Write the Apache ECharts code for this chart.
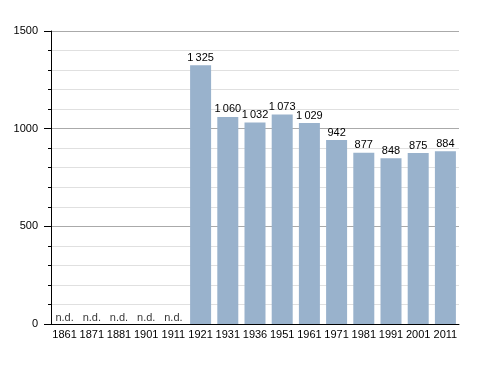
<!DOCTYPE html>
<html><head><meta charset="utf-8">
<script src="https://cdn.jsdelivr.net/npm/echarts@6/dist/echarts.min.js"></script>
<style>html,body{margin:0;padding:0;background:#fff}#c{width:488px;height:373px}</style>
</head><body><div id="c"></div>
<script>
const categories = ['1861','1871','1881','1901','1911','1921','1931','1936','1951','1961','1971','1981','1991','2001','2011'];
const population = [null,null,null,null,null,1325,1060,1032,1073,1029,942,877,848,875,884];
const yTicks = [0,500,1000,1500];

const fmt = v => String(v).replace(/\B(?=(\d{3})+(?!\d))/g, '\u2009');
const ndData = population.map(v => v === null ? 0 : null);

const chart = echarts.init(document.getElementById('c'));
chart.setOption({
  animation: false,
  grid: {left: 51, right: 29, top: 31, bottom: 49},
  textStyle: {fontFamily: 'Liberation Sans, Arial, sans-serif'},
  xAxis: {
    type: 'category', data: categories,
    axisLine: {lineStyle: {color: '#000', width: 1}},
    axisTick: {show: false},
    axisLabel: {color: '#000', fontSize: 11, margin: 5, interval: 0}
  },
  yAxis: {
    type: 'value', min: yTicks[0], max: yTicks[yTicks.length-1], interval: 500,
    axisLine: {show: true, lineStyle: {color: '#000', width: 1}},
    axisTick: {show: true, length: 7, lineStyle: {color: '#000'}},
    minorTick: {show: true, splitNumber: 5, length: 3, lineStyle: {color: '#000'}},
    axisLabel: {color: '#000', fontSize: 11, margin: 13, formatter: v => String(v)},
    splitLine: {lineStyle: {color: '#aaa', width: 1}},
    minorSplitLine: {show: true, lineStyle: {color: '#e0e0e0', width: 1}}
  },
  series: [{
    type: 'bar', data: population, barWidth: 21,
    itemStyle: {color: '#99b2cc'},
    label: {show: true, position: 'top', distance: 2, color: '#000', fontSize: 11,
      formatter: p => fmt(p.value)}
  }, {
    type: 'scatter', data: ndData, symbolSize: 0,
    label: {show: true, position: 'top', distance: 1, color: '#000', fontSize: 11, formatter: 'n.d.'}
  }]
});
</script></body></html>
